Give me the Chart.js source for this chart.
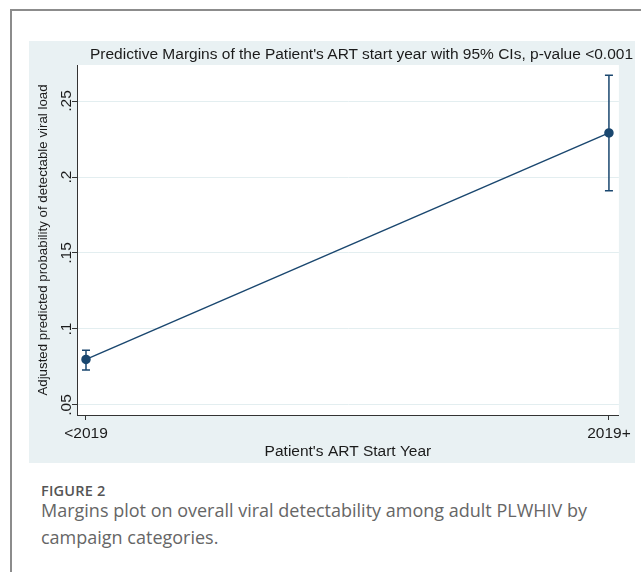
<!DOCTYPE html>
<html>
<head>
<meta charset="utf-8">
<script src="https://cdn.jsdelivr.net/npm/chart.js@4.4.1/dist/chart.umd.min.js"></script>
<style>
  html, body { margin: 0; padding: 0; background: #fff; overflow: hidden; }
  .frame { position: absolute; left: 10px; top: 9px; width: 660px; height: 600px;
           border-left: 2px solid #8c8c8c; border-top: 2px solid #8c8c8c; }
  .panel { position: absolute; left: 29px; top: 41px; width: 606px; height: 422px; background: #e9f1f3; }
  .panel canvas { position: absolute; left: 0; top: 0; }
  .plot-title { position: absolute; left: 61px; top: 4px; white-space: nowrap;
                font: 15.5px 'Liberation Sans', Arial, sans-serif; color: #1b1b1b; }
  .fig-label { position: absolute; left: 41px; top: 482px; font: 600 14.5px 'Open Sans', sans-serif;
               line-height: 18px; color: #555; letter-spacing: 0.2px; }
  .fig-caption { position: absolute; left: 41px; top: 497px; font: 400 18px 'Open Sans', sans-serif;
                 line-height: 27px; color: #666; white-space: nowrap; }
</style>
</head>
<body>
<div class="frame"></div>
<div class="panel">
  <canvas id="marginsChart" width="606" height="422"></canvas>
  <div class="plot-title">Predictive Margins of the Patient's ART start year with 95% CIs, p-value &lt;0.001</div>
</div>
<div class="fig-label">FIGURE 2</div>
<div class="fig-caption">Margins plot on overall viral detectability among adult PLWHIV by<br>campaign categories.</div>

<script>
// values
const categories = ['<2019', '2019+'];
const margins = [0.080, 0.229];
const ciLower = [0.073, 0.191];
const ciUpper = [0.086, 0.267];
const yTicks = [0.05, 0.10, 0.15, 0.20, 0.25];

const navy = '#1a476f';
const axisFont = "'Liberation Sans', Arial, sans-serif";

// white plot region on top of the blue-grey panel
const plotBackground = {
    id: 'plotBackground',
    beforeDraw(chart) {
        const { ctx, chartArea } = chart;
        ctx.save();
        ctx.fillStyle = '#ffffff';
        ctx.fillRect(chartArea.left, chartArea.top, chartArea.right - chartArea.left, chartArea.bottom - chartArea.top);
        ctx.restore();
    }
};

// 95% CI whiskers with caps
const errorBars = {
    id: 'errorBars',
    beforeDatasetsDraw(chart) {
        const { ctx, scales: { x, y } } = chart;
        ctx.save();
        ctx.strokeStyle = navy;
        ctx.lineWidth = 1.5;
        categories.forEach((c, i) => {
            const px = x.getPixelForValue(i);
            const top = y.getPixelForValue(ciUpper[i]);
            const bot = y.getPixelForValue(ciLower[i]);
            ctx.beginPath();
            ctx.moveTo(px, top);
            ctx.lineTo(px, bot);
            ctx.moveTo(px - 4, top);
            ctx.lineTo(px + 4, top);
            ctx.moveTo(px - 4, bot);
            ctx.lineTo(px + 4, bot);
            ctx.stroke();
        });
        ctx.restore();
    }
};

// Stata style y labels, rotated and reading upwards
const rotatedYLabels = {
    id: 'rotatedYLabels',
    afterDraw(chart) {
        const { ctx, scales: { y } } = chart;
        ctx.save();
        ctx.font = '15.5px ' + axisFont;
        ctx.fillStyle = '#1b1b1b';
        ctx.textAlign = 'center';
        ctx.textBaseline = 'middle';
        yTicks.forEach(v => {
            const py = y.getPixelForValue(v);
            ctx.save();
            ctx.translate(y.right - 10, py);
            ctx.rotate(-Math.PI / 2);
            ctx.fillText(v.toFixed(2).replace(/^0/, '').replace(/0$/, ''), 0, 0);
            ctx.restore();
        });
        ctx.restore();
    }
};

const ctx = document.getElementById('marginsChart').getContext('2d');
new Chart(ctx, {
    type: 'line',
    data: {
        datasets: [{
            label: 'Margins',
            data: categories.map((c, i) => ({ x: i, y: margins[i] })),
            borderColor: navy,
            backgroundColor: navy,
            borderWidth: 1.5,
            pointRadius: 4,
            pointBackgroundColor: navy,
            pointBorderColor: navy,
            tension: 0
        }]
    },
    options: {
        responsive: false,
        animation: false,
        layout: { padding: { top: 24, right: 16, left: 0, bottom: 0 } },
        plugins: {
            legend: { display: false },
            tooltip: { enabled: false },
            title: { display: false }
        },
        scales: {
            x: {
                type: 'linear',
                min: -0.0172,
                max: 1.019,
                afterBuildTicks: scale => { scale.ticks = categories.map((c, i) => ({ value: i })); },
                afterFit: scale => { scale.height = 48; },
                ticks: {
                    autoSkip: false,
                    maxRotation: 0,
                    padding: 4,
                    color: '#1b1b1b',
                    font: { family: axisFont, size: 15.5 },
                    callback: value => categories[value]
                },
                grid: { drawOnChartArea: false, tickLength: 5, tickColor: '#333', tickWidth: 1 },
                border: { color: '#333', width: 1 },
                title: {
                    display: true,
                    text: "Patient's ART Start Year",
                    color: '#1b1b1b',
                    font: { family: axisFont, size: 15.5 },
                    padding: { top: 0, bottom: 2 }
                }
            },
            y: {
                min: 0.0434,
                max: 0.2737,
                afterBuildTicks: scale => { scale.ticks = yTicks.map(v => ({ value: v })); },
                afterFit: scale => { scale.width = 48; },
                ticks: { display: false },
                grid: { color: '#e3eef0', lineWidth: 1, tickLength: 5, tickColor: '#333', tickWidth: 1 },
                border: { color: '#333', width: 1 },
                title: {
                    display: true,
                    text: 'Adjusted predicted probability of detectable viral load',
                    color: '#1b1b1b',
                    font: { family: axisFont, size: 13.3 },
                    padding: { top: 6, bottom: 0 }
                }
            }
        }
    },
    plugins: [plotBackground, errorBars, rotatedYLabels]
});
</script>
</body>
</html>
